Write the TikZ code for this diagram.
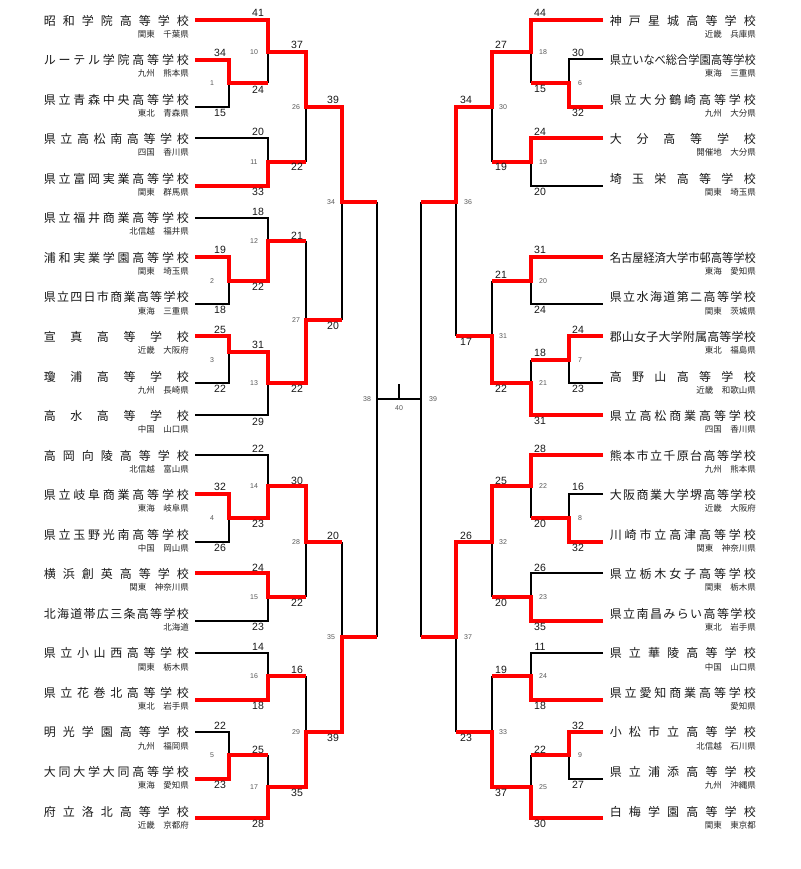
\documentclass[tikz,border=0pt]{standalone}
\usepackage{fontspec}
\usepackage{graphicx}
\setmainfont{Liberation Sans}
\newfontfamily\jp{Noto Sans CJK JP}
\def\spreadchars#1{\spreadA#1\relax}
\def\spreadA#1{#1\spreadB}
\def\spreadB#1{\ifx\relax#1\else\hfil#1\expandafter\spreadB\fi}
\newsavebox\namebox
\newcommand\fitname[2]{\sbox\namebox{#2}%
  \ifdim\wd\namebox>#1\relax\resizebox{#1}{\height}{\usebox\namebox}%
  \else\hbox to #1{\spreadchars{#2}}\fi}
\newcounter{scn}
\newcommand\sco[3]{\stepcounter{scn}\node[sc] (sc\arabic{scn}) at (#1,#2) {#3};}
\newcommand\mno[3]{\node[mn] (m#3) at (#1,#2) {#3};}
\newcommand\lteam[3]{\pgfmathsetmacro\teamy{20.5+39.55*#1}%
  \node[nm] (L#1) at (189,\teamy) {\fitname{145pt}{#2}};%
  \node[rg] (L#1r) at (189,\teamy+13.5) {#3};}
\newcommand\rteam[3]{\pgfmathsetmacro\teamy{20.5+39.55*#1}%
  \node[nm] (R#1) at (756,\teamy) {\fitname{146pt}{#2}};%
  \node[rg] (R#1r) at (756,\teamy+13.5) {#3};}
\begin{document}
\begin{tikzpicture}[x=1pt,y=-1pt,
  bl/.style={draw=black,line width=1.1pt},
  wn/.style={draw=red,line width=3.6pt,line join=miter},
  nm/.style={font=\jp\fontsize{12}{13}\selectfont,inner sep=0pt,anchor=east,text=black!90},
  rg/.style={font=\jp\fontsize{8.5}{9}\selectfont,inner sep=0pt,anchor=east,text=black!85},
  sc/.style={font=\fontsize{10.5}{11}\selectfont,inner sep=0pt,text=black!90},
  mn/.style={font=\fontsize{7}{8}\selectfont,inner sep=0pt,text=black!65}]
\useasboundingbox[fill=white] (0,0) rectangle (800,869);

% ---------- team names ----------
\lteam{0}{昭和学院高等学校}{関東　千葉県}
\lteam{1}{ルーテル学院高等学校}{九州　熊本県}
\lteam{2}{県立青森中央高等学校}{東北　青森県}
\lteam{3}{県立高松南高等学校}{四国　香川県}
\lteam{4}{県立富岡実業高等学校}{関東　群馬県}
\lteam{5}{県立福井商業高等学校}{北信越　福井県}
\lteam{6}{浦和実業学園高等学校}{関東　埼玉県}
\lteam{7}{県立四日市商業高等学校}{東海　三重県}
\lteam{8}{宣真高等学校}{近畿　大阪府}
\lteam{9}{瓊浦高等学校}{九州　長崎県}
\lteam{10}{高水高等学校}{中国　山口県}
\lteam{11}{高岡向陵高等学校}{北信越　富山県}
\lteam{12}{県立岐阜商業高等学校}{東海　岐阜県}
\lteam{13}{県立玉野光南高等学校}{中国　岡山県}
\lteam{14}{横浜創英高等学校}{関東　神奈川県}
\lteam{15}{北海道帯広三条高等学校}{北海道}
\lteam{16}{県立小山西高等学校}{関東　栃木県}
\lteam{17}{県立花巻北高等学校}{東北　岩手県}
\lteam{18}{明光学園高等学校}{九州　福岡県}
\lteam{19}{大同大学大同高等学校}{東海　愛知県}
\lteam{20}{府立洛北高等学校}{近畿　京都府}

\rteam{0}{神戸星城高等学校}{近畿　兵庫県}
\rteam{1}{県立いなべ総合学園高等学校}{東海　三重県}
\rteam{2}{県立大分鶴崎高等学校}{九州　大分県}
\rteam{3}{大分高等学校}{開催地　大分県}
\rteam{4}{埼玉栄高等学校}{関東　埼玉県}
\rteam{6}{名古屋経済大学市邨高等学校}{東海　愛知県}
\rteam{7}{県立水海道第二高等学校}{関東　茨城県}
\rteam{8}{郡山女子大学附属高等学校}{東北　福島県}
\rteam{9}{高野山高等学校}{近畿　和歌山県}
\rteam{10}{県立高松商業高等学校}{四国　香川県}
\rteam{11}{熊本市立千原台高等学校}{九州　熊本県}
\rteam{12}{大阪商業大学堺高等学校}{近畿　大阪府}
\rteam{13}{川崎市立高津高等学校}{関東　神奈川県}
\rteam{14}{県立栃木女子高等学校}{関東　栃木県}
\rteam{15}{県立南昌みらい高等学校}{東北　岩手県}
\rteam{16}{県立華陵高等学校}{中国　山口県}
\rteam{17}{県立愛知商業高等学校}{愛知県}
\rteam{18}{小松市立高等学校}{北信越　石川県}
\rteam{19}{県立浦添高等学校}{九州　沖縄県}
\rteam{20}{白梅学園高等学校}{関東　東京都}

% ---------- black bracket, left ----------
\draw[bl] (195,60)-|(229,107)--(195,107); \draw[bl] (229,83)--(268,83);
\draw[bl] (195,20)-|(268,83); \draw[bl] (268,52)--(306,52);
\draw[bl] (195,138)-|(268,186)--(195,186); \draw[bl] (268,162)--(306,162);
\draw[bl] (306,52)--(306,162); \draw[bl] (306,107)--(342,107);
\draw[bl] (195,257)-|(229,304)--(195,304); \draw[bl] (229,281)--(268,281);
\draw[bl] (195,218)-|(268,281); \draw[bl] (268,241)--(306,241);
\draw[bl] (195,336)-|(229,383)--(195,383); \draw[bl] (229,352)--(268,352);
\draw[bl] (268,352)--(268,415)--(195,415); \draw[bl] (268,383)--(306,383);
\draw[bl] (306,241)--(306,383); \draw[bl] (306,320)--(342,320);
\draw[bl] (342,107)--(342,320); \draw[bl] (342,202)--(377,202);
\draw[bl] (195,494)-|(229,542)--(195,542); \draw[bl] (229,518)--(268,518);
\draw[bl] (195,455)-|(268,518); \draw[bl] (268,486)--(306,486);
\draw[bl] (195,573)-|(268,621)--(195,621); \draw[bl] (268,597)--(306,597);
\draw[bl] (306,486)--(306,597); \draw[bl] (306,542)--(342,542);
\draw[bl] (195,653)-|(268,700)--(195,700); \draw[bl] (268,676)--(306,676);
\draw[bl] (195,732)-|(229,779)--(195,779); \draw[bl] (229,755)--(268,755);
\draw[bl] (268,755)--(268,818)--(195,818); \draw[bl] (268,787)--(306,787);
\draw[bl] (306,676)--(306,787); \draw[bl] (306,732)--(342,732);
\draw[bl] (342,542)--(342,732); \draw[bl] (342,637)--(377,637);
\draw[bl] (377,202)--(377,637);
% center
\draw[bl] (377,399)--(421,399);
\draw[bl] (399,399)--(399,384);
% ---------- black bracket, right ----------
\draw[bl] (603,59)-|(569,107)--(603,107); \draw[bl] (569,83)--(531,83);
\draw[bl] (603,20)-|(531,83); \draw[bl] (531,52)--(492,52);
\draw[bl] (603,138)-|(531,186)--(603,186); \draw[bl] (531,162)--(492,162);
\draw[bl] (492,52)--(492,162); \draw[bl] (492,107)--(456,107);
\draw[bl] (603,257)-|(531,304)--(603,304); \draw[bl] (531,281)--(492,281);
\draw[bl] (603,336)-|(569,383)--(603,383); \draw[bl] (569,360)--(531,360);
\draw[bl] (531,360)--(531,415)--(603,415); \draw[bl] (531,383)--(492,383);
\draw[bl] (492,281)--(492,383); \draw[bl] (492,336)--(456,336);
\draw[bl] (456,107)--(456,336); \draw[bl] (456,202)--(421,202);
\draw[bl] (603,455)-|(531,518); \draw[bl] (531,486)--(492,486);
\draw[bl] (603,494)-|(569,542)--(603,542); \draw[bl] (569,518)--(531,518);
\draw[bl] (603,573)-|(531,621)--(603,621); \draw[bl] (531,597)--(492,597);
\draw[bl] (492,486)--(492,597); \draw[bl] (492,542)--(456,542);
\draw[bl] (603,653)-|(531,700)--(603,700); \draw[bl] (531,676)--(492,676);
\draw[bl] (603,732)-|(569,779)--(603,779); \draw[bl] (569,755)--(531,755);
\draw[bl] (531,755)--(531,818)--(603,818); \draw[bl] (531,787)--(492,787);
\draw[bl] (492,676)--(492,787); \draw[bl] (492,732)--(456,732);
\draw[bl] (456,542)--(456,732); \draw[bl] (456,637)--(421,637);
\draw[bl] (421,202)--(421,637);

% ---------- red winner paths, left ----------
\draw[wn] (195,20)-|(268,52)-|(306,107)-|(342,202)--(377,202);
\draw[wn] (195,60)-|(229,83)--(268,83);
\draw[wn] (195,186)-|(268,162)--(306,162);
\draw[wn] (195,257)-|(229,281)-|(268,241)--(306,241);
\draw[wn] (195,336)-|(229,352)-|(268,383)-|(306,320)--(342,320);
\draw[wn] (195,494)-|(229,518)-|(268,486)-|(306,542)--(342,542);
\draw[wn] (195,573)-|(268,597)--(306,597);
\draw[wn] (195,700)-|(268,676)--(306,676);
\draw[wn] (195,779)-|(229,755)--(268,755);
\draw[wn] (195,818)-|(268,787)-|(306,732)-|(342,637)--(377,637);
% ---------- red winner paths, right ----------
\draw[wn] (603,20)-|(531,52)-|(492,107)-|(456,202)--(421,202);
\draw[wn] (603,107)-|(569,83)--(531,83);
\draw[wn] (603,138)-|(531,162)--(492,162);
\draw[wn] (603,257)-|(531,281)--(492,281);
\draw[wn] (603,336)-|(569,360)--(531,360);
\draw[wn] (603,415)-|(531,383)-|(492,336)--(456,336);
\draw[wn] (603,455)-|(531,486)-|(492,542)-|(456,637)--(421,637);
\draw[wn] (603,542)-|(569,518)--(531,518);
\draw[wn] (603,621)-|(531,597)--(492,597);
\draw[wn] (603,700)-|(531,676)--(492,676);
\draw[wn] (603,732)-|(569,755)--(531,755);
\draw[wn] (603,818)-|(531,787)-|(492,732)--(456,732);

% ---------- scores, left ----------
\sco{220}{53}{34} \sco{220}{113}{15}
\sco{220}{250}{19} \sco{220}{310}{18}
\sco{220}{330}{25} \sco{220}{389}{22}
\sco{220}{487}{32} \sco{220}{548}{26}
\sco{220}{726}{22} \sco{220}{785}{23}
\sco{258}{13}{41} \sco{258}{90}{24}
\sco{258}{132}{20} \sco{258}{192}{33}
\sco{258}{212}{18} \sco{258}{287}{22}
\sco{258}{345}{31} \sco{258}{422}{29}
\sco{258}{449}{22} \sco{258}{524}{23}
\sco{258}{568}{24} \sco{258}{627}{23}
\sco{258}{647}{14} \sco{258}{706}{18}
\sco{258}{750}{25} \sco{258}{824}{28}
\sco{297}{45}{37} \sco{297}{167}{22}
\sco{297}{236}{21} \sco{297}{389}{22}
\sco{297}{481}{30} \sco{297}{603}{22}
\sco{297}{670}{16} \sco{297}{793}{35}
\sco{333}{100}{39} \sco{333}{326}{20}
\sco{333}{536}{20} \sco{333}{738}{39}
% ---------- scores, right ----------
\sco{578}{53}{30} \sco{578}{113}{32}
\sco{578}{330}{24} \sco{578}{389}{23}
\sco{578}{487}{16} \sco{578}{548}{32}
\sco{578}{726}{32} \sco{578}{785}{27}
\sco{540}{13}{44} \sco{540}{89}{15}
\sco{540}{132}{24} \sco{540}{192}{20}
\sco{540}{250}{31} \sco{540}{310}{24}
\sco{540}{353}{18} \sco{540}{421}{31}
\sco{540}{449}{28} \sco{540}{524}{20}
\sco{540}{568}{26} \sco{540}{627}{35}
\sco{540}{647}{11} \sco{540}{706}{18}
\sco{540}{750}{22} \sco{540}{824}{30}
\sco{501}{45}{27} \sco{501}{167}{19}
\sco{501}{275}{21} \sco{501}{389}{22}
\sco{501}{481}{25} \sco{501}{603}{20}
\sco{501}{670}{19} \sco{501}{793}{37}
\sco{466}{100}{34} \sco{466}{342}{17}
\sco{466}{536}{26} \sco{466}{738}{23}

% ---------- match numbers ----------
\mno{212}{83}{1} \mno{212}{281}{2} \mno{212}{360}{3} \mno{212}{518}{4} \mno{212}{755}{5}
\mno{254}{52}{10} \mno{254}{162}{11} \mno{254}{241}{12} \mno{254}{383}{13}
\mno{254}{486}{14} \mno{254}{597}{15} \mno{254}{676}{16} \mno{254}{787}{17}
\mno{296}{107}{26} \mno{296}{320}{27} \mno{296}{542}{28} \mno{296}{732}{29}
\mno{331}{202}{34} \mno{331}{637}{35}
\mno{367}{399}{38}
\mno{580}{83}{6} \mno{580}{360}{7} \mno{580}{518}{8} \mno{580}{755}{9}
\mno{543}{52}{18} \mno{543}{162}{19} \mno{543}{281}{20} \mno{543}{383}{21}
\mno{543}{486}{22} \mno{543}{597}{23} \mno{543}{676}{24} \mno{543}{787}{25}
\mno{503}{107}{30} \mno{503}{336}{31} \mno{503}{542}{32} \mno{503}{732}{33}
\mno{468}{202}{36} \mno{468}{637}{37}
\mno{433}{399}{39}
\mno{399}{408}{40}
\end{tikzpicture}
\end{document}
